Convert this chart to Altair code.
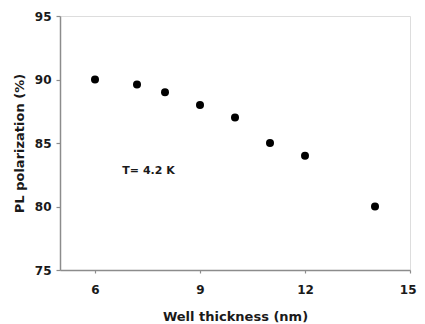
import altair as alt
import pandas as pd

thickness = [6, 7.2, 8, 9, 10, 11, 12, 14]
polarization = [90, 89.6, 89, 88, 87, 85, 84, 80]
x_ticks = [6, 9, 12, 15]
y_ticks = [75, 80, 85, 90, 95]
note_text = ["T= 4.2 K"]
note_x = [7.53]
note_y = [82.8]

df = pd.DataFrame({"x": thickness, "y": polarization})
note = pd.DataFrame({"x": note_x, "y": note_y, "t": note_text})

font = "DejaVu Sans"
ink = "#1a1a1a"
gray = "#8c8c8c"

xenc = alt.X("x:Q", scale=alt.Scale(domain=[5, 15], nice=False, zero=False),
             axis=alt.Axis(values=x_ticks, title="Well thickness (nm)", grid=False,
                           domainColor=gray, domainWidth=1.5, tickColor=gray, tickWidth=1.2,
                           tickSize=3, labelFont=font, labelFontSize=12, labelFontWeight="bold",
                           labelColor=ink, labelPadding=11, labelFlush=True, labelFlushOffset=6,
                           titleFont=font, titleFontSize=13,
                           titleFontWeight="bold", titleColor=ink, titlePadding=15))
yenc = alt.Y("y:Q", scale=alt.Scale(domain=[75, 95], nice=False, zero=False),
             axis=alt.Axis(values=y_ticks, title="PL polarization (%)", grid=False,
                           domainColor=gray, domainWidth=1.5, tickColor=gray, tickWidth=1.2,
                           tickSize=4, labelFont=font, labelFontSize=12, labelFontWeight="bold",
                           labelColor=ink, labelPadding=5, labelFlush=False,
                           titleFont=font, titleFontSize=13,
                           titleFontWeight="bold", titleColor=ink, titlePadding=8))

points = alt.Chart(df).mark_circle(size=64, color="black", opacity=1).encode(x=xenc, y=yenc)
label = alt.Chart(note).mark_text(font=font, fontSize=11, fontWeight="bold", color=ink).encode(
    x="x:Q", y="y:Q", text="t:N")

chart = (points + label).properties(
    width=350, height=254,
    autosize=alt.AutoSizeParams(type="none"),
    padding={"left": 52, "top": 8, "right": 7, "bottom": 54},
).configure_view(stroke=gray, strokeWidth=1.5).configure(background="white")

chart.save("out.html", embed_options={"renderer": "svg", "actions": False})
